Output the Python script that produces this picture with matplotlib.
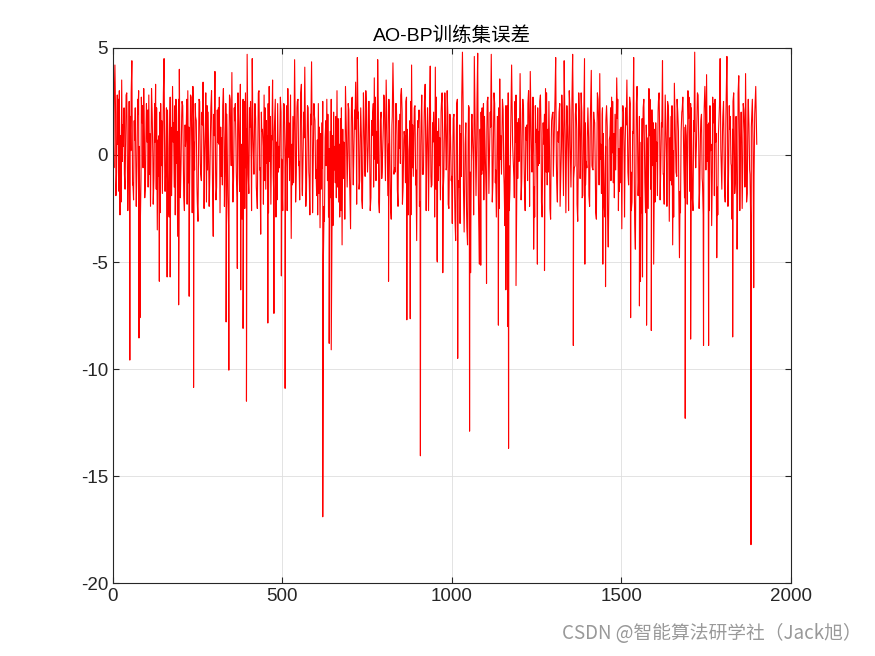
import numpy as np
import matplotlib
matplotlib.use("Agg")
import matplotlib.pyplot as plt

plt.rcParams['font.family'] = ['Liberation Sans', 'Noto Sans CJK SC', 'DejaVu Sans']
plt.rcParams['axes.unicode_minus'] = False

# Training error read every 5 samples (index 1, 6, 11, ...)
base_step = 5
base_values = [
    1.2, 4.2, -0.8, 2.6, -2.8, 3.5, 0.4, -1.6, 2.9, -0.9, 1.8, 4.4, -2.1, 2.2, -0.5, 3.0, -3.2, 1.5, 3.1, -1.4,
    0.6, 2.8, -2.4, 1.9, -1.1, 3.3, -3.5, 0.9, 2.4, -1.8, 4.5, -0.6, 2.1, -2.9, 1.3, 3.2, -1.5, 2.6, -3.8, 4.0,
    -0.4, 2.3, -2.6, 1.0, 3.0, -1.9, 2.7, 3.2, -0.7, 1.6, -3.1, 2.5, -1.2, 3.4, 0.2, -2.2, 2.0, -0.9, 3.0, -3.8,
    3.9, -1.5, 2.2, -2.7, 0.8, 3.1, -0.5, 1.9, -3.3, 2.6, 3.85, -1.1, 2.4, -2.0, 1.5, 3.3, -3.0, 0.7, 2.9, 4.7,
    -1.8, 2.5, 4.5, -0.9, 1.7, -2.5, 3.0, -3.7, 1.2, 2.8, -1.6, 0.9, 3.2, -2.3, 3.5, 1.1, -2.9, 2.4, -0.6, 2.0,
    -2.6, 2.3, 0.5, 3.1, -1.2, -3.9, 1.8, 4.45, -0.8, 2.6, -2.1, 3.3, 0.1, 4.1, -1.7, 2.2, -2.8, 4.35, -0.3, 1.6,
    -1.9, 2.4, -3.4, 1.5, -4.7, 0.8, 2.6, -2.9, 1.1, -4.3, 2.0, -1.3, 3.0, -2.2, 1.7, -4.2, 0.6, 3.2, -1.5, 2.1,
    -3.45, 2.7, 0.4, 3.4, 4.55, -1.6, 2.2, -2.5, 1.4, 3.0, -0.8, 2.5, -2.0, 1.8, 3.6, -1.2, 4.45, -2.7, 2.0, 0.3,
    2.6, 3.5, -1.9, 1.2, -3.0, 4.3, -0.6, 2.4, -2.4, 1.9, 3.1, -1.5, 0.8, 2.7, -2.8, 1.6, 4.2, -1.0, 2.3, -4.0,
    1.3, -2.2, 2.8, -0.9, 3.3, 0.5, -2.6, 4.15, -1.4, 2.0, 4.1, -4.9, 1.7, -2.1, 2.9, -1.0, 1.4, 3.0, -2.5, 0.8,
    -3.2, 1.9, -4.0, 2.6, -1.5, 1.0, 4.8, -3.6, 1.5, -4.2, 2.2, -2.8, 0.6, 4.6, -1.9, 4.75, -5.1, 2.0, -0.7, 1.8,
    -2.0, 2.7, 0.3, 4.7, -1.2, 2.4, -2.9, 1.6, 3.55, -0.9, 2.1, -3.3, 1.2, 2.9, -1.6, 4.2, -0.4, 2.5, -2.4, 1.7,
    3.8, -1.1, 2.2, -2.6, 1.4, 3.0, 3.9, -0.8, -4.4, 2.3, -1.7, 1.1, 2.8, -2.9, 0.5, 3.1, -1.4, 2.5, -3.0, 1.9,
    0.4, 4.55, -2.2, 2.0, -0.9, 1.6, 4.4, -2.7, 1.3, 3.0, -1.5, 4.7, -0.6, 2.4, -3.1, 1.8, 2.9, -1.9, 4.5, -0.3,
    2.2, -2.4, 3.95, -0.7, 1.5, -3.0, 2.6, 3.8, -1.8, 1.0, -2.9, 2.3, -4.3, 0.9, 2.7, -1.3, 1.9, 3.6, -2.6, 1.2,
    -3.45, 2.0, 0.6, 3.5, -1.4, 2.4, -2.2, 4.55, -4.4, 3.2, -1.0, -5.9, 1.7, 2.6, -2.7, 0.8, 3.1, -1.6, 2.1, -3.0,
    1.5, -1.9, 2.9, -0.5, 4.4, -2.3, 1.3, 2.5, -3.1, 1.8, -4.2, 3.35, -0.8, 2.0, -4.8, 1.1, 2.7, -2.0, 0.9, 3.0,
    -1.7, 2.2, -2.6, 4.8, 0.4, 2.8, -1.4, 1.9, -2.8, 3.2, 3.75, -0.9, 2.3, -3.3, 1.5, 2.6, -4.8, 1.0, 4.5, -1.6,
    2.5, -2.2, 4.6, -0.7, 1.8, -3.0, 2.9, -1.2, -4.4, 3.7, 0.6, -2.5, 2.1, 3.8, -1.8, 1.4, -2.9, 2.6, -1.0, 3.2,
]

# In-between samples (index 3, 8, 13, ...), mostly inside the dense core band
mid_values = [
    -0.6, 1.9, 2.8, -1.7, 0.9, -0.3, 2.2, 1.1, -1.2, 2.5, 0.2, -1.4, 1.6, -0.7, 2.6, 0.4, -1.1, 2.3, 0.8, 1.5,
    2.1, -0.9, 1.2, -0.2, 2.4, -1.6, 0.7, 2.0, -0.5, 1.3, -1.0, 2.2, 0.3, 1.0, -1.9, 0.6, 2.3, -0.4, 1.7, -0.8,
    1.8, -0.6, 1.4, 2.6, -1.3, 0.9, -0.2, 1.5, 2.4, -1.5, 0.8, -0.4, 2.0, 0.1, 1.6, 2.3, -1.2, 1.1, -0.3, 1.9,
    -0.8, 2.1, 0.5, 1.3, -1.4, 0.7, 2.4, -0.9, 1.2, 0.2, -0.7, 2.2, 0.6, 1.4, -1.1, 0.3, 1.8, 2.5, -0.6, 1.0,
    2.2, -0.4, 1.1, 1.8, -1.5, 0.8, -0.7, 2.0, 0.4, -1.2, 1.6, 2.4, -0.3, 0.9, -1.0, 2.1, 0.6, -0.8, 1.5, -0.2,
    1.3, -0.9, 2.3, -0.1, 1.7, 0.5, -1.3, 1.0, 2.2, -0.5, 1.4, -1.6, 2.0, 0.7, 1.1, -0.8, 1.9, 0.2, 2.4, -1.1,
    0.7, -1.8, 1.0, -0.6, -2.4, 1.6, -1.2, 0.3, -2.0, 0.9, -0.7, 1.8, -1.5, 0.5, -2.6, 1.2, -0.4, 1.5, 0.1, -1.0,
    1.4, -0.5, 2.1, 0.6, 1.7, -1.2, 0.8, 1.3, -0.6, 2.2, 0.4, -0.9, 1.6, 2.4, -0.2, 1.1, 2.0, 0.3, -1.1, 1.5,
    -0.3, 1.8, 0.5, -1.1, 1.4, 2.3, -0.8, 0.9, 1.6, -0.4, 2.0, 0.7, -1.3, 1.2, 0.2, 2.5, -0.6, 1.0, -1.4, 0.8,
    2.1, 0.4, -0.9, 1.7, -0.2, 2.2, 0.9, -1.0, 1.5, 0.3, -1.6, 1.1, -0.5, 2.0, 0.6, 1.3, -0.7, 1.8, 0.1, -1.2,
    0.5, -1.9, 0.8, -2.2, 1.4, -1.0, 2.3, -0.6, -2.5, 0.9, -1.4, 1.6, -0.3, 2.1, 0.4, -1.8, 1.2, -0.9, 2.4, 0.2,
    1.1, -0.4, 2.0, 0.7, 1.6, -1.3, 0.5, 2.2, -0.2, 1.4, -0.9, 1.0, 2.3, -0.5, 0.8, 1.9, -1.1, 0.6, 1.5, -0.3,
    0.9, 2.1, -0.6, 1.3, -1.2, 0.7, 1.8, 0.2, -1.5, 0.6, 2.2, -0.4, 1.0, 0.5, 1.9, -0.8, 1.2, -0.2, 0.8, 2.0,
    1.6, -0.3, 1.1, 2.4, 0.4, -1.0, 1.7, 0.9, -0.7, 2.1, 0.6, 1.4, -0.5, 1.2, 0.3, -1.1, 2.0, 0.7, 1.5, -0.6,
    0.8, 1.5, -0.5, 2.0, -1.0, 0.6, 1.1, -0.2, 1.9, -0.9, 0.4, 1.3, -1.6, 2.2, 0.1, 1.0, -0.7, 1.7, 0.3, -1.3,
    1.0, -0.4, 2.2, 0.3, 1.6, -0.8, 1.1, -1.5, 0.5, -0.6, 1.8, -2.0, 0.7, -0.3, 1.4, -1.2, 0.9, 2.1, -0.5, 1.2,
    -0.3, 2.0, 0.6, 1.5, -0.9, 1.2, -0.4, 2.3, 0.8, -1.4, 0.2, 1.6, -1.0, 1.1, -1.7, 2.0, 0.5, 1.3, -0.6, 1.7,
    0.9, -0.5, 1.6, -0.1, 2.2, 0.4, 1.0, -1.1, 0.7, 1.9, -0.3, 1.5, 0.2, -0.8, 2.4, 0.6, -1.5, 1.8, 0.3, 1.1,
    -0.6, 1.7, 0.9, 2.3, -0.4, 1.2, 0.5, 1.8, -1.3, 0.8, 2.0, -0.2, 1.0, 0.4, 2.1, -0.7, 1.3, 0.6, 1.9, 1.5,
]

# More samples (index 4, 9, 14, ...), spread over the whole band
late_values = [
    2.6, -1.9, 0.5, 3.0, -2.2, 1.4, -0.9, 2.8, -2.6, 0.3, 2.9, -1.3, 0.7, -2.4, 1.9, -1.8, 2.7, -0.6, -2.0, 2.4,
    -1.5, 1.0, 3.1, -2.3, 0.6, 2.2, -1.0, -2.7, 1.6, 2.9, -1.7, 0.4, -2.5, 2.7, -0.8, 1.5, -2.8, 1.1, 2.6, -2.0,
    2.5, -1.9, 0.4, -2.3, 1.3, 2.8, -2.7, 0.6, 1.8, -2.2, 2.6, -0.9, 1.4, -2.5, 2.9, -0.7, -2.4, 2.2, -1.6, 0.9,
    -2.1, 0.6, 2.7, -1.0, 2.3, -2.4, 1.5, -1.9, 2.8, -0.5, -2.2, 1.6, -0.8, 2.9, -1.7, 0.5, 2.6, -2.5, 1.2, -0.9,
    1.3, -2.6, 0.3, 2.4, -1.8, 2.9, -0.6, 1.1, -2.3, 2.2, -0.4, -2.7, 1.8, 0.7, -1.6, 2.6, -2.1, 0.4, 2.7, -1.3,
    2.4, -0.6, -2.6, 1.5, 2.8, -1.4, 0.6, -2.2, 2.5, -0.3, 2.9, -1.9, 0.8, -2.4, 2.3, -1.1, 1.4, -2.7, 1.9, -0.7,
    -2.8, 1.3, -1.6, 2.5, -3.1, -0.5, 1.9, -2.4, 2.6, -3.3, 0.4, -2.0, 1.7, -2.9, 2.2, -1.1, -3.0, 0.8, 2.4, -1.8,
    2.6, -1.4, 1.2, -2.3, 2.0, 0.4, -2.1, 2.9, -1.0, 0.6, 2.5, -2.6, 0.9, -1.5, 2.7, -0.4, -2.2, 1.6, -0.8, 2.8,
    -1.2, 0.7, 2.6, -2.5, 1.8, -0.9, 2.4, -1.6, 0.3, 2.8, -2.3, 1.1, 2.5, -1.9, 0.5, -2.8, 1.4, 2.2, -0.7, 1.6,
    -2.4, 1.5, -0.8, 2.5, -2.6, 1.2, 2.3, -1.5, 0.6, -2.9, 2.7, -1.2, 0.8, 2.4, -1.8, 2.9, -0.6, -2.3, 1.9, -1.0,
    1.7, -3.0, 2.4, -1.2, -3.2, 2.7, -1.6, 0.5, -3.4, 2.3, -0.8, 1.9, -2.8, 0.9, 2.6, -3.1, 0.4, 2.2, -2.1, -0.5,
    2.5, -1.8, 1.3, -2.2, 2.9, -0.7, 1.8, -2.5, 0.9, 2.6, -1.4, 2.3, -0.9, -2.6, 2.0, 0.5, -2.0, 2.8, -1.1, 0.6,
    -2.1, 2.6, -1.5, 0.7, 2.4, -2.4, 0.8, 2.7, -2.9, 1.2, -0.5, 2.5, -2.2, 1.5, -1.6, 2.9, -0.8, -2.5, 1.6, -1.0,
    2.7, -1.3, 0.6, -2.4, 2.8, -1.9, 0.9, 2.3, -2.6, 0.4, 2.6, -1.1, 1.9, -2.3, 2.9, -0.6, -2.0, 2.2, -1.4, 0.7,
    -1.9, 2.4, -0.6, 1.7, -2.7, 2.9, -1.4, 0.5, 2.2, -2.3, 1.6, -2.8, 0.7, -1.2, 2.5, -2.0, 0.9, 2.6, -1.7, 1.3,
    2.3, -2.9, 1.4, -0.8, 2.7, -2.6, 1.0, -3.2, 2.4, -1.9, 0.6, -2.7, 2.2, -1.3, 0.9, -2.5, 2.6, -0.7, 1.5, -2.2,
    0.6, 2.5, -2.1, 1.3, -0.9, 2.8, -2.4, 1.7, -1.2, 2.3, -2.9, 0.8, 2.6, -1.6, -2.7, 2.1, -0.5, 1.4, -2.3, 2.7,
    2.4, -2.0, 1.1, -0.6, 2.9, -2.5, 1.6, -1.3, 2.2, -0.7, 1.4, -2.6, 0.5, 2.7, -1.9, 1.0, -2.8, 2.3, -0.4, 1.8,
    -1.7, 2.8, -2.4, 1.2, -0.5, 2.5, -1.8, 0.8, 2.9, -2.6, 1.1, 2.4, -1.5, -2.2, 2.6, -0.9, 1.7, -2.0, 2.3, 0.5,
]

# Large negative errors (sample index, error)
spike_idx = [50, 77, 80, 137, 160, 169, 194, 225, 238, 334, 342, 367, 377, 384, 394,
             457, 475, 497, 508, 619, 638, 644, 813, 867, 877, 907, 957, 973,
             1017, 1052, 1055, 1085, 1102, 1137, 1159, 1164, 1167, 1189, 1252, 1273,
             1358, 1392, 1445, 1453, 1527, 1553, 1562, 1574, 1588, 1595,
             1688, 1704, 1742, 1757, 1828, 1882, 1890]
spike_val = [-9.58, -8.55, -7.6, -5.9, -5.7, -5.7, -7.0, -6.6, -10.86, -7.8, -10.05, -5.3, -6.3, -8.1, -11.5,
             -7.85, -7.4, -5.65, -10.9, -16.9, -8.8, -9.1, -5.9, -7.7, -7.65, -14.05, -5.0, -5.5,
             -9.5, -12.9, -5.5, -5.15, -6.0, -7.95, -6.3, -8.0, -13.7, -6.1, -5.1, -5.4,
             -8.9, -5.1, -5.1, -6.15, -7.6, -7.05, -5.7, -7.95, -8.2, -5.1,
             -12.3, -8.6, -8.9, -8.9, -8.5, -18.2, -6.2]

base_idx = 1 + base_step * np.arange(len(base_values))
mid_idx = 3 + base_step * np.arange(len(mid_values))
late_idx = 4 + base_step * np.arange(len(late_values))
x = np.concatenate([base_idx, mid_idx, late_idx, spike_idx])
y = np.concatenate([base_values, mid_values, late_values, spike_val])
order = np.argsort(x, kind='stable')
x = x[order]
y = y[order]

fig = plt.figure(figsize=(8.75, 6.56), dpi=100)
ax = fig.add_axes([0.129, 0.111, 0.775, 0.816])

ax.plot(x, y, color='red', linewidth=0.8)

ax.set_xlim(0, 2000)
ax.set_ylim(-20, 5)
ax.set_xticks([0, 500, 1000, 1500, 2000])
ax.set_yticks([-20, -15, -10, -5, 0, 5])
ax.grid(True, color='#dedede', linewidth=0.6)
ax.set_axisbelow(True)
ax.tick_params(direction='in', top=True, right=True, labelsize=13.5, length=4,
               color='#262626', labelcolor='#262626', width=0.8)
for s in ax.spines.values():
    s.set_color('#262626')
    s.set_linewidth(0.8)

ax.set_title('AO-BP训练集误差', fontsize=14, color='black', pad=5)

fig.text(0.985, 0.018, 'CSDN @智能算法研学社（Jack旭）', ha='right', va='bottom',
         fontsize=13.5, color='#999999', family=['Noto Sans CJK SC', 'DejaVu Sans'])

fig.savefig('out.png', dpi=100)
